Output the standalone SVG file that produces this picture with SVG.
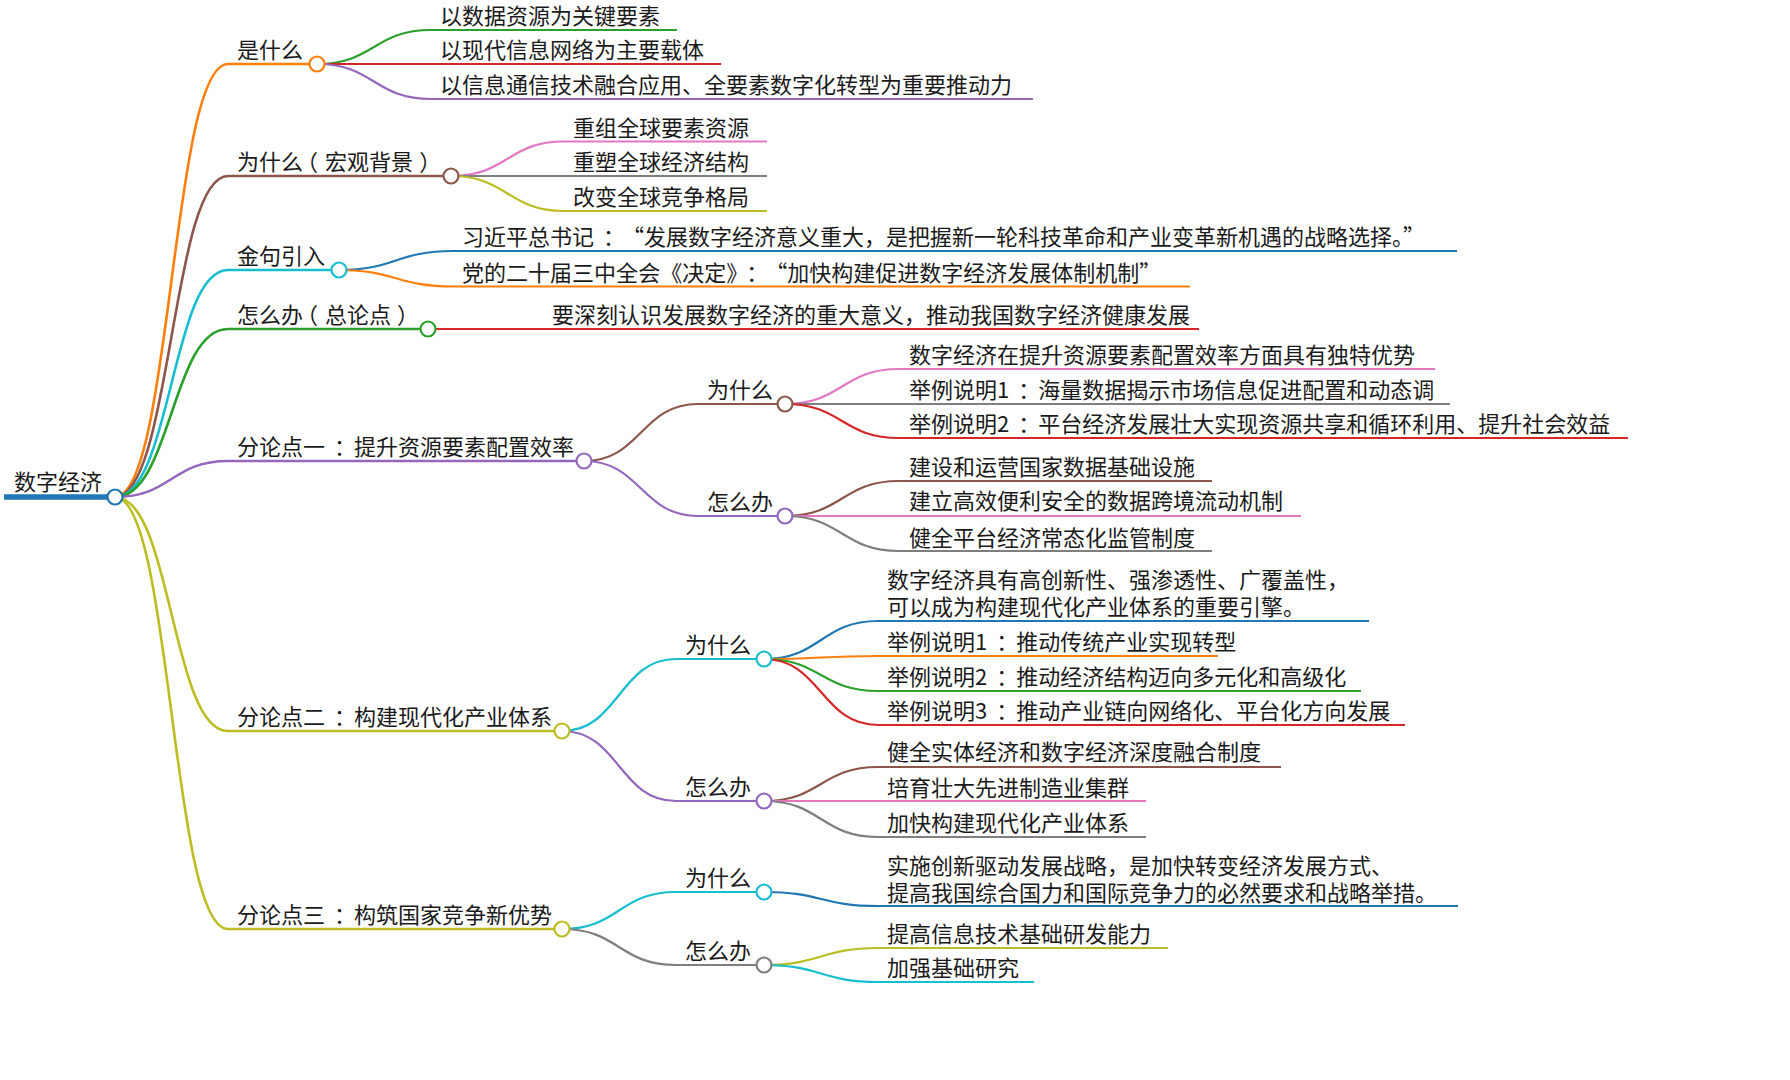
<svg xmlns="http://www.w3.org/2000/svg" width="1790" height="1080" viewBox="0 0 1790 1080">
<style>
text{font-family:"Noto Sans CJK SC","Microsoft YaHei",sans-serif;font-size:22px;fill:#1a1a1a}
.lk{fill:none;stroke-width:2.2}
.l1{stroke-width:2.6}
.ul{stroke-width:2.2;fill:none}
.ul1{stroke-width:2.6;fill:none}
circle{fill:#fff;stroke-width:2.2}
.c-blue{stroke:#1f77b4}.c-orange{stroke:#ff7f0e}.c-green{stroke:#2ca02c}.c-red{stroke:#d62728}.c-purple{stroke:#9467bd}
.c-brown{stroke:#8c564b}.c-pink{stroke:#e377c2}.c-gray{stroke:#7f7f7f}.c-olive{stroke:#bcbd22}.c-cyan{stroke:#17becf}
</style>
<rect width="1790" height="1080" fill="#fff"/>
<g id="connectors">
<path class="lk l1 c-orange" d="M115,497 C171.5,497 171.5,64 228,64"/>
<path class="lk l1 c-brown" d="M115,497 C171.5,497 171.5,176 228,176"/>
<path class="lk l1 c-cyan" d="M115,497 C171.5,497 171.5,270 228,270"/>
<path class="lk l1 c-green" d="M115,497 C171.5,497 171.5,329 228,329"/>
<path class="lk l1 c-purple" d="M115,497 C171.5,497 171.5,461 228,461"/>
<path class="lk l1 c-olive" d="M115,497 C171.5,497 171.5,731 228,731"/>
<path class="lk l1 c-olive" d="M115,497 C171.5,497 171.5,929 228,929"/>
<path class="lk c-green" d="M317,64 C374,64 374,30 431,30"/>
<path class="lk c-red" d="M317,64 C374,64 374,64 431,64"/>
<path class="lk c-purple" d="M317,64 C374,64 374,99 431,99"/>
<path class="lk c-pink" d="M451,176 C507.5,176 507.5,141.5 564,141.5"/>
<path class="lk c-gray" d="M451,176 C507.5,176 507.5,176 564,176"/>
<path class="lk c-olive" d="M451,176 C507.5,176 507.5,211 564,211"/>
<path class="lk c-blue" d="M339,270 C396,270 396,251 453,251"/>
<path class="lk c-orange" d="M339,270 C396,270 396,286.5 453,286.5"/>
<path class="lk c-red" d="M428,329 L542,329"/>
<path class="lk c-brown" d="M584,461 C641,461 641,404 698,404"/>
<path class="lk c-purple" d="M584,461 C641,461 641,516 698,516"/>
<path class="lk c-pink" d="M785,404 C842,404 842,369 899,369"/>
<path class="lk c-gray" d="M785,404 L899,404"/>
<path class="lk c-red" d="M785,404 C842,404 842,438 899,438"/>
<path class="lk c-brown" d="M785,516 C842,516 842,481 899,481"/>
<path class="lk c-pink" d="M785,516 L899,516"/>
<path class="lk c-gray" d="M785,516 C842,516 842,551 899,551"/>
<path class="lk c-cyan" d="M562,731 C619,731 619,659 676,659"/>
<path class="lk c-purple" d="M562,731 C619,731 619,801 676,801"/>
<path class="lk c-blue" d="M764,659 C821,659 821,621 878,621"/>
<path class="lk c-orange" d="M764,659 C821,659 821,656 878,656"/>
<path class="lk c-green" d="M764,659 C821,659 821,691 878,691"/>
<path class="lk c-red" d="M764,659 C821,659 821,725 878,725"/>
<path class="lk c-brown" d="M764,801 C821,801 821,767 878,767"/>
<path class="lk c-pink" d="M764,801 L878,801"/>
<path class="lk c-gray" d="M764,801 C821,801 821,837 878,837"/>
<path class="lk c-cyan" d="M562,929 C619,929 619,892 676,892"/>
<path class="lk c-gray" d="M562,929 C619,929 619,965 676,965"/>
<path class="lk c-blue" d="M764,892 C821,892 821,906 878,906"/>
<path class="lk c-olive" d="M764,965 C821,965 821,948 878,948"/>
<path class="lk c-cyan" d="M764,965 C821,965 821,982 878,982"/>
</g>

<g id="n-root">
<line x1="4" y1="497" x2="115" y2="497" stroke="#1f77b4" stroke-width="5.5"/>
<text x="14" y="490">数字经济</text>
<circle class="c-blue" cx="115" cy="497" r="7.5"/>
</g>

<g id="n-a">
<line class="ul1 c-orange" x1="228" y1="64" x2="317" y2="64"/>
<text x="237" y="58">是什么</text>
<circle class="c-orange" cx="317" cy="64" r="7.5"/>
</g>
<g id="n-a1"><line class="ul c-green" x1="431" y1="30" x2="677" y2="30"/><text x="440" y="24">以数据资源为关键要素</text></g>
<g id="n-a2"><line class="ul c-red" x1="431" y1="64" x2="721" y2="64"/><text x="440" y="58">以现代信息网络为主要载体</text></g>
<g id="n-a3"><line class="ul c-purple" x1="431" y1="99" x2="1033" y2="99"/><text x="440" y="93">以信息通信技术融合应用、全要素数字化转型为重要推动力</text></g>

<g id="n-b">
<line class="ul1 c-brown" x1="228" y1="176" x2="451" y2="176"/>
<text x="237" y="170" dx="0 0 0 -7 7 0 0 0 6">为什么（宏观背景）</text>
<circle class="c-brown" cx="451" cy="176" r="7.5"/>
</g>
<g id="n-b1"><line class="ul c-pink" x1="564" y1="141.5" x2="767" y2="141.5"/><text x="573" y="135.5">重组全球要素资源</text></g>
<g id="n-b2"><line class="ul c-gray" x1="564" y1="176" x2="767" y2="176"/><text x="573" y="170">重塑全球经济结构</text></g>
<g id="n-b3"><line class="ul c-olive" x1="564" y1="211" x2="767" y2="211"/><text x="573" y="205">改变全球竞争格局</text></g>

<g id="n-c">
<line class="ul1 c-cyan" x1="228" y1="270" x2="339" y2="270"/>
<text x="237" y="264">金句引入</text>
<circle class="c-cyan" cx="339" cy="270" r="7.5"/>
</g>
<g id="n-c1"><line class="ul c-blue" x1="453" y1="251" x2="1457" y2="251"/><text x="462" y="245" dx="0 0 0 0 0 0 9 8">习近平总书记：“发展数字经济意义重大，是把握新一轮科技革命和产业变革新机遇的战略选择。”</text></g>
<g id="n-c2"><line class="ul c-orange" x1="453" y1="286.5" x2="1190" y2="286.5"/><text x="462" y="280.5" dx="0 0 0 0 0 0 0 0 0 0 0 0 0 9 8">党的二十届三中全会《决定》：“加快构建促进数字经济发展体制机制”</text></g>

<g id="n-d">
<line class="ul1 c-green" x1="228" y1="329" x2="428" y2="329"/>
<text x="237" y="323" dx="0 0 0 -7 7 0 0 6">怎么办（总论点）</text>
<circle class="c-green" cx="428" cy="329" r="7.5"/>
</g>
<g id="n-d1"><line class="ul c-red" x1="542" y1="329" x2="1199" y2="329"/><text x="552" y="323">要深刻认识发展数字经济的重大意义，推动我国数字经济健康发展</text></g>

<g id="n-e">
<line class="ul1 c-purple" x1="228" y1="461" x2="584" y2="461"/>
<text x="237" y="455" dx="0 0 0 0 9 -2">分论点一：提升资源要素配置效率</text>
<circle class="c-purple" cx="584" cy="461" r="7.5"/>
</g>
<g id="n-e1">
<line class="ul c-brown" x1="698" y1="404" x2="785" y2="404"/>
<text x="707" y="398">为什么</text>
<circle class="c-brown" cx="785" cy="404" r="7.5"/>
</g>
<g id="n-e11"><line class="ul c-pink" x1="899" y1="369" x2="1435" y2="369"/><text x="909" y="363">数字经济在提升资源要素配置效率方面具有独特优势</text></g>
<g id="n-e12"><line class="ul c-gray" x1="899" y1="404" x2="1450" y2="404"/><text x="909" y="398" dx="0 0 0 0 0 9 -2">举例说明1：海量数据揭示市场信息促进配置和动态调</text></g>
<g id="n-e13"><line class="ul c-red" x1="899" y1="438" x2="1628" y2="438"/><text x="909" y="432" dx="0 0 0 0 0 9 -2">举例说明2：平台经济发展壮大实现资源共享和循环利用、提升社会效益</text></g>
<g id="n-e2">
<line class="ul c-purple" x1="698" y1="516" x2="785" y2="516"/>
<text x="707" y="510">怎么办</text>
<circle class="c-purple" cx="785" cy="516" r="7.5"/>
</g>
<g id="n-e21"><line class="ul c-brown" x1="899" y1="481" x2="1212" y2="481"/><text x="909" y="475">建设和运营国家数据基础设施</text></g>
<g id="n-e22"><line class="ul c-pink" x1="899" y1="516" x2="1301" y2="516"/><text x="909" y="509">建立高效便利安全的数据跨境流动机制</text></g>
<g id="n-e23"><line class="ul c-gray" x1="899" y1="551" x2="1212" y2="551"/><text x="909" y="546">健全平台经济常态化监管制度</text></g>

<g id="n-f">
<line class="ul1 c-olive" x1="228" y1="731" x2="562" y2="731"/>
<text x="237" y="725" dx="0 0 0 0 9 -2">分论点二：构建现代化产业体系</text>
<circle class="c-olive" cx="562" cy="731" r="7.5"/>
</g>
<g id="n-f1">
<line class="ul c-cyan" x1="676" y1="659" x2="764" y2="659"/>
<text x="685" y="653">为什么</text>
<circle class="c-cyan" cx="764" cy="659" r="7.5"/>
</g>
<g id="n-f11"><line class="ul c-blue" x1="878" y1="621" x2="1369" y2="621"/><text x="887" y="588">数字经济具有高创新性、强渗透性、广覆盖性，</text><text x="887" y="615">可以成为构建现代化产业体系的重要引擎。</text></g>
<g id="n-f12"><line class="ul c-orange" x1="878" y1="656" x2="1218" y2="656"/><text x="887" y="650" dx="0 0 0 0 0 9 -2">举例说明1：推动传统产业实现转型</text></g>
<g id="n-f13"><line class="ul c-green" x1="878" y1="691" x2="1361" y2="691"/><text x="887" y="685" dx="0 0 0 0 0 9 -2">举例说明2：推动经济结构迈向多元化和高级化</text></g>
<g id="n-f14"><line class="ul c-red" x1="878" y1="725" x2="1405" y2="725"/><text x="887" y="719" dx="0 0 0 0 0 9 -2">举例说明3：推动产业链向网络化、平台化方向发展</text></g>
<g id="n-f2">
<line class="ul c-purple" x1="676" y1="801" x2="764" y2="801"/>
<text x="685" y="795">怎么办</text>
<circle class="c-purple" cx="764" cy="801" r="7.5"/>
</g>
<g id="n-f21"><line class="ul c-brown" x1="878" y1="767" x2="1281" y2="767"/><text x="887" y="760">健全实体经济和数字经济深度融合制度</text></g>
<g id="n-f22"><line class="ul c-pink" x1="878" y1="801" x2="1146" y2="801"/><text x="887" y="796">培育壮大先进制造业集群</text></g>
<g id="n-f23"><line class="ul c-gray" x1="878" y1="837" x2="1146" y2="837"/><text x="887" y="831">加快构建现代化产业体系</text></g>

<g id="n-g">
<line class="ul1 c-olive" x1="228" y1="929" x2="562" y2="929"/>
<text x="237" y="923" dx="0 0 0 0 9 -2">分论点三：构筑国家竞争新优势</text>
<circle class="c-olive" cx="562" cy="929" r="7.5"/>
</g>
<g id="n-g1">
<line class="ul c-cyan" x1="676" y1="892" x2="764" y2="892"/>
<text x="685" y="886">为什么</text>
<circle class="c-cyan" cx="764" cy="892" r="7.5"/>
</g>
<g id="n-g11"><line class="ul c-blue" x1="878" y1="906" x2="1458" y2="906"/><text x="887" y="874">实施创新驱动发展战略，是加快转变经济发展方式、</text><text x="887" y="901">提高我国综合国力和国际竞争力的必然要求和战略举措。</text></g>
<g id="n-g2">
<line class="ul c-gray" x1="676" y1="965" x2="764" y2="965"/>
<text x="685" y="959">怎么办</text>
<circle class="c-gray" cx="764" cy="965" r="7.5"/>
</g>
<g id="n-g21"><line class="ul c-olive" x1="878" y1="948" x2="1168" y2="948"/><text x="887" y="942">提高信息技术基础研发能力</text></g>
<g id="n-g22"><line class="ul c-cyan" x1="878" y1="982" x2="1034" y2="982"/><text x="887" y="976">加强基础研究</text></g>
</svg>
